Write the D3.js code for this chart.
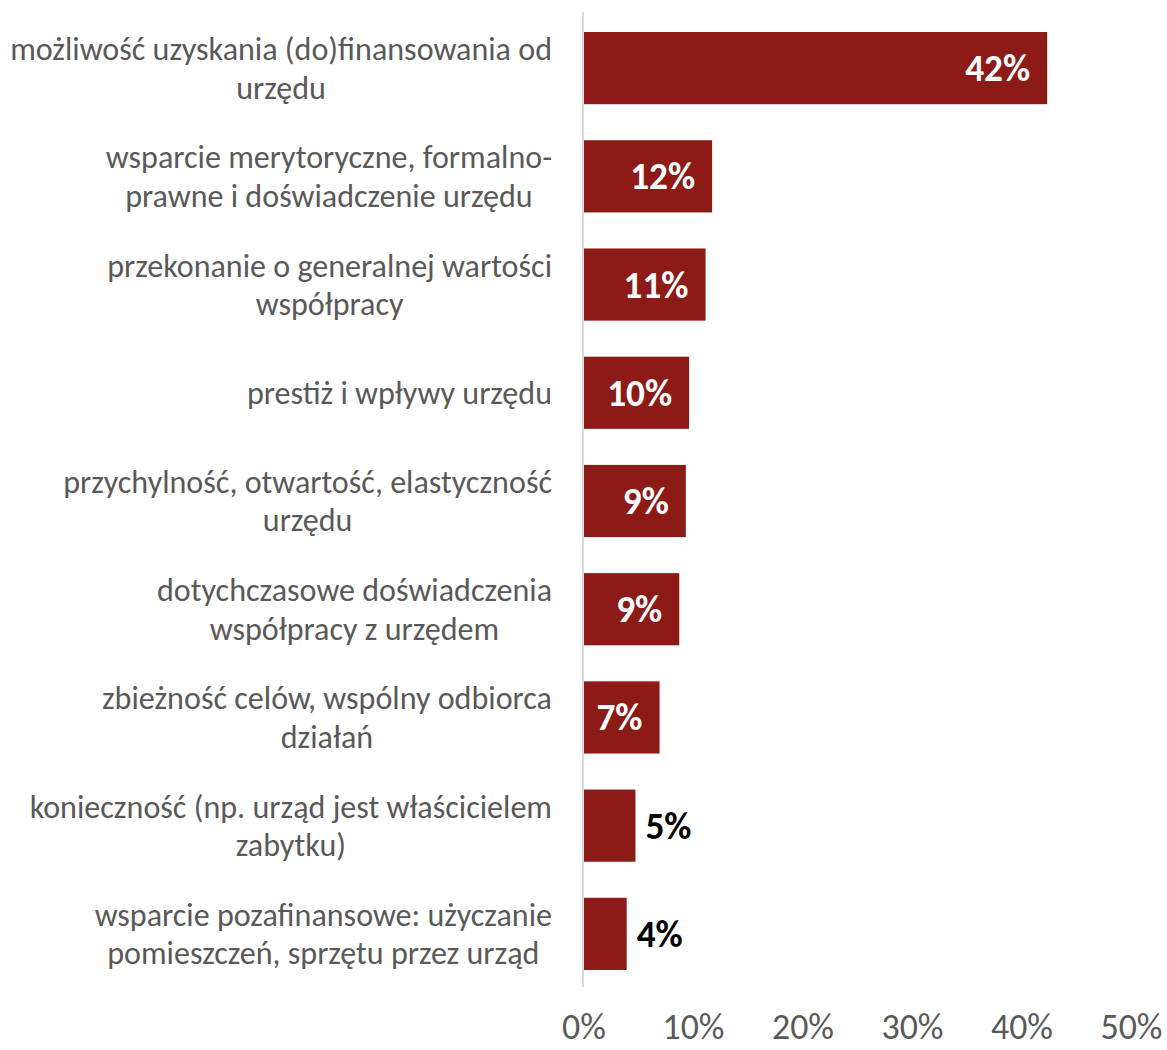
<!DOCTYPE html>
<html>
<head>
<meta charset="utf-8">
<script src="https://cdn.jsdelivr.net/npm/d3@7"></script>
<style>
  html, body { margin: 0; padding: 0; background: #fff; }
  svg { display: block; }
</style>
</head>
<body>
<svg id="chart" width="1167" height="1050"></svg>
<script>
// ---- data ----
const categories = [
  "możliwość uzyskania (do)finansowania od\nurzędu",
  "wsparcie merytoryczne, formalno-\nprawne i doświadczenie urzędu",
  "przekonanie o generalnej wartości\nwspółpracy",
  "prestiż i wpływy urzędu",
  "przychylność, otwartość, elastyczność\nurzędu",
  "dotychczasowe doświadczenia\nwspółpracy z urzędem",
  "zbieżność celów, wspólny odbiorca\ndziałań",
  "konieczność (np. urząd jest właścicielem\nzabytku)",
  "wsparcie pozafinansowe: użyczanie\npomieszczeń, sprzętu przez urząd"
];
const values = [42.3, 11.7, 11.1, 9.6, 9.3, 8.7, 6.9, 4.7, 3.9];
const tickValues = [0, 10, 20, 30, 40, 50];

// ---- layout ----
const FONT = "Carlito, Lato, 'Open Sans', sans-serif";
const svg = d3.select("#chart");
const x = d3.scaleLinear().domain([0, 50]).range([584, 1131.5]);
const y = d3.scaleBand().domain(d3.range(categories.length)).range([14, 988]).paddingInner(0.333).paddingOuter(0.1665);

// fit font sizes to measured widths
function fitSize(text, weight, target) {
  const t = svg.append("text").attr("font-family", FONT).attr("font-weight", weight)
    .attr("font-size", 100).text(text);
  const w = t.node().getComputedTextLength();
  t.remove();
  return 100 * target / w;
}
const catSize = fitSize("możliwość uzyskania (do)finansowania od", "normal", 542);
const tickSize = fitSize("10%", "normal", 62);
const valSize = fitSize("42%", "bold", 65);

// axis line
svg.append("line")
  .attr("x1", x(0) - 1).attr("x2", x(0) - 1)
  .attr("y1", 12).attr("y2", 987)
  .attr("stroke", "#d9d9d9").attr("stroke-width", 2);

// bars
svg.selectAll("rect.bar").data(values).join("rect")
  .attr("class", "bar")
  .attr("x", x(0))
  .attr("y", (d, i) => y(i))
  .attr("width", d => x(d) - x(0))
  .attr("height", y.bandwidth())
  .attr("fill", "#8C1A17");

// value labels
svg.selectAll("text.val").data(values).join("text")
  .attr("class", "val")
  .attr("font-family", FONT).attr("font-weight", "bold").attr("font-size", valSize)
  .attr("y", (d, i) => y(i) + y.bandwidth() / 2)
  .attr("dy", "0.35em")
  .each(function (d) {
    const inside = d >= 6;
    d3.select(this)
      .attr("x", inside ? x(d) - 17 : x(d) + 10)
      .attr("text-anchor", inside ? "end" : "start")
      .attr("fill", inside ? "#ffffff" : "#000000");
  })
  .text(d => Math.round(d) + "%");

// category labels: block right-aligned, lines centered within block
const labelRight = 552;
const lineGap = 38.5;
categories.forEach((c, i) => {
  const lines = c.split("\n");
  const g = svg.append("g");
  const cy = y(i) + y.bandwidth() / 2;
  const texts = lines.map((l, k) => g.append("text")
    .attr("font-family", FONT).attr("font-size", catSize).attr("fill", "#595959")
    .attr("text-anchor", "middle")
    .attr("y", cy + (k - (lines.length - 1) / 2) * lineGap)
    .attr("dy", "0.35em")
    .text(l));
  const maxW = d3.max(texts, t => t.node().getComputedTextLength());
  texts.forEach(t => t.attr("x", labelRight - maxW / 2));
});

// x axis tick labels
svg.selectAll("text.tick").data(tickValues).join("text")
  .attr("class", "tick")
  .attr("font-family", FONT).attr("font-size", tickSize).attr("fill", "#595959")
  .attr("text-anchor", "middle")
  .attr("x", d => x(d))
  .attr("y", 1039)
  .text(d => d + "%");
</script>
</body>
</html>
